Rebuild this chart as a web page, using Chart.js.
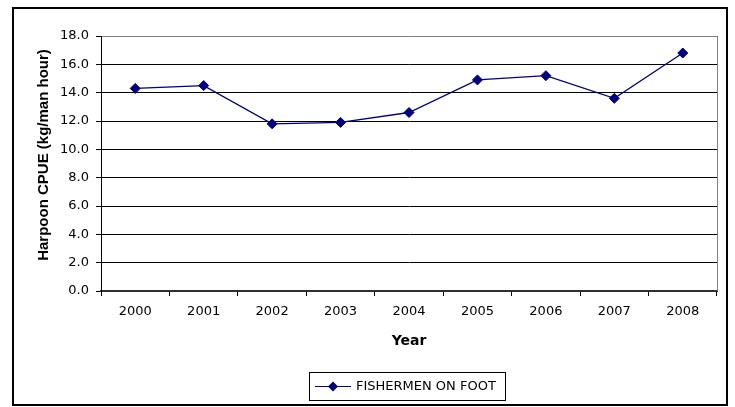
<!DOCTYPE html>
<html>
<head>
<meta charset="utf-8">
<title>Harpoon CPUE</title>
<script src="https://cdn.jsdelivr.net/npm/chart.js@4.4.1/dist/chart.umd.min.js"></script>
<style>
  html, body { margin: 0; padding: 0; background: #fff; }
  canvas { display: block; }
</style>
</head>
<body>
<canvas id="cpue-chart" width="735" height="407"></canvas>
<script>
// Años y captura por unidad de esfuerzo (kg por hombre y hora)
const years = ['2000', '2001', '2002', '2003', '2004', '2005', '2006', '2007', '2008'];
const cpueOnFoot = [14.3, 14.5, 11.8, 11.9, 12.6, 14.9, 15.2, 13.6, 16.8];
const seriesLabel = 'FISHERMEN ON FOOT';
const yTitle = 'Harpoon CPUE (kg/man hour)';
const xTitle = 'Year';

const NAVY = '#000080';
const TICK_FONT = { family: '"DejaVu Sans", sans-serif', size: 13 };

// Marco exterior, borde gris del área de trazado, título del eje Y y leyenda
const framePlugin = {
  id: 'frame',
  beforeDraw(chart) {
    const c = chart.ctx;
    c.save();
    c.fillStyle = '#fff';
    c.fillRect(0, 0, chart.width, chart.height);
    c.restore();
  },
  afterDraw(chart) {
    const c = chart.ctx;
    const area = chart.chartArea;
    c.save();
    // borde derecho gris del área
    c.strokeStyle = '#808080';
    c.lineWidth = 1;
    c.beginPath();
    c.moveTo(Math.round(area.right) + 0.5, area.top);
    c.lineTo(Math.round(area.right) + 0.5, area.bottom);
    c.stroke();

    // marco exterior
    c.strokeStyle = '#000';
    c.lineWidth = 2;
    c.strokeRect(13, 8, 714, 397);

    // título del eje Y
    c.fillStyle = '#000';
    c.font = 'bold 15px "Liberation Sans", Arial, sans-serif';
    c.textAlign = 'center';
    c.textBaseline = 'middle';
    c.translate(43.5, 155);
    c.rotate(-Math.PI / 2);
    c.fillText(yTitle, 0, 0);
    c.restore();

    // leyenda con recuadro
    const ds = chart.data.datasets[0];
    c.save();
    c.strokeStyle = '#000';
    c.lineWidth = 1;
    c.strokeRect(309.5, 372.5, 196, 28);
    c.strokeStyle = ds.borderColor;
    c.lineWidth = 1.2;
    c.beginPath();
    c.moveTo(315, 386.5);
    c.lineTo(351, 386.5);
    c.stroke();
    c.fillStyle = ds.pointBackgroundColor;
    c.beginPath();
    c.moveTo(333, 381.5);
    c.lineTo(338, 386.5);
    c.lineTo(333, 391.5);
    c.lineTo(328, 386.5);
    c.closePath();
    c.fill();
    c.fillStyle = '#000';
    c.font = '13px "DejaVu Sans", sans-serif';
    c.textAlign = 'left';
    c.textBaseline = 'middle';
    c.fillText(ds.label, 356, 387);
    c.restore();
  }
};

new Chart(document.getElementById('cpue-chart'), {
  type: 'line',
  data: {
    labels: years,
    datasets: [{
      label: seriesLabel,
      data: cpueOnFoot,
      borderColor: NAVY,
      borderWidth: 1.3,
      backgroundColor: NAVY,
      pointBackgroundColor: NAVY,
      pointBorderColor: NAVY,
      pointStyle: 'rectRot',
      pointRadius: 5,
      pointBorderWidth: 1,
      tension: 0,
      fill: false
    }]
  },
  options: {
    responsive: false,
    animation: false,
    layout: { padding: { left: 0, top: 36, right: 18, bottom: 0 } },
    plugins: {
      legend: { display: false },
      tooltip: { enabled: false }
    },
    scales: {
      x: {
        type: 'category',
        offset: true,
        afterFit(scale) { scale.height = 116; },
        grid: {
          offset: true,
          drawOnChartArea: false,
          drawTicks: true,
          tickLength: 5,
          tickColor: '#000'
        },
        border: { display: true, color: '#303030', width: 2 },
        ticks: { color: '#000', font: TICK_FONT, padding: 8, maxRotation: 0 },
        title: {
          display: true,
          text: xTitle,
          color: '#000',
          font: { family: '"DejaVu Sans", sans-serif', size: 14, weight: 'bold' },
          padding: { top: 0, bottom: 57 }
        }
      },
      y: {
        min: 0,
        max: 18,
        afterFit(scale) { scale.width = 101; },
        grid: {
          color: ctx => (ctx.tick && ctx.tick.value === 18 ? '#808080' : '#000'),
          lineWidth: 1,
          tickLength: 5,
          tickColor: '#000'
        },
        border: { display: true, color: '#000', width: 1 },
        ticks: {
          stepSize: 2,
          color: '#000',
          font: TICK_FONT,
          padding: 7,
          callback: v => v.toFixed(1)
        }
      }
    }
  },
  plugins: [framePlugin]
});
</script>
</body>
</html>
